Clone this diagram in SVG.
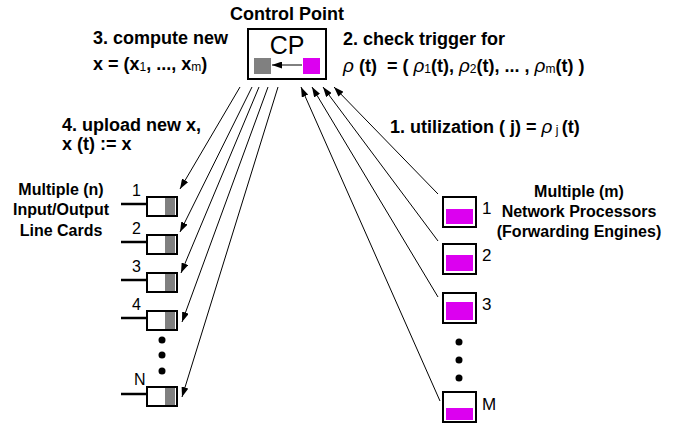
<svg xmlns="http://www.w3.org/2000/svg" width="673" height="426" viewBox="0 0 673 426">
<defs>
<style>
.b18{font-family:"Liberation Sans",Arial,sans-serif;font-weight:bold;font-size:18px;fill:#000;white-space:pre}
.b16{font-family:"Liberation Sans",Arial,sans-serif;font-weight:bold;font-size:16px;fill:#000;text-anchor:middle}
.num{font-family:"Liberation Sans",Arial,sans-serif;font-size:16px;fill:#000}
.numr{font-family:"Liberation Sans",Arial,sans-serif;font-size:17px;fill:#000}
.rho{font-family:"Liberation Sans",Arial,sans-serif;font-style:italic;font-weight:normal;font-size:19px}
.sub{font-weight:normal;font-size:12px}
.box{fill:#fff;stroke:#000;stroke-width:2}
.gray{fill:#808080}
.mag{fill:#dc00f0}
.conn{stroke:#000;stroke-width:1;fill:none;marker-end:url(#ah)}
.wire{stroke:#000;stroke-width:2.5}
</style>
<marker id="ah" markerWidth="10" markerHeight="7" refX="10" refY="3.5" orient="auto" markerUnits="userSpaceOnUse">
<path d="M0,0 L10,3.5 L0,7 z" fill="#000"/>
</marker>
</defs>
<rect width="673" height="426" fill="#fff"/>

<g id="control-point">
<text x="287" y="20" class="b18" text-anchor="middle">Control Point</text>
<rect x="248" y="29" width="78" height="50" class="box"/>
<text x="287" y="54" font-family="Liberation Sans, Arial, sans-serif" font-size="25" text-anchor="middle">CP</text>
<rect x="254" y="58" width="17" height="16" class="gray"/>
<rect x="303" y="58" width="17" height="16" class="mag"/>
<line x1="302" y1="65" x2="272" y2="65" class="conn"/>
</g>

<g id="labels">
<text x="93" y="44" class="b18">3. compute new</text>
<text x="93" y="70" class="b18">x = (x<tspan class="sub" dy="1">1</tspan><tspan dy="-1">, ..., x</tspan><tspan class="sub" dy="1">m</tspan><tspan dy="-1">)</tspan></text>
<text x="343" y="45" class="b18">2. check trigger for</text>
<text x="343" y="72" class="b18"><tspan class="rho">ρ</tspan> (t)  = ( <tspan class="rho">ρ</tspan><tspan class="sub" dy="1">1</tspan><tspan dy="-1">(t), </tspan><tspan class="rho">ρ</tspan><tspan class="sub" dy="1">2</tspan><tspan dy="-1">(t), ... , </tspan><tspan class="rho">ρ</tspan><tspan class="sub" dy="1">m</tspan><tspan dy="-1">(t) )</tspan></text>
<text x="62" y="131" class="b18">4. upload new x,</text>
<text x="62" y="150" class="b18">x (t) := x</text>
<text x="390" y="133" class="b18">1. utilization ( j) = <tspan class="rho">ρ</tspan><tspan class="sub" dy="1"> j </tspan><tspan dy="-1">(t)</tspan></text>
<text x="61" y="195" class="b16">Multiple (n)</text>
<text x="61" y="215" class="b16">Input/Output</text>
<text x="61" y="236" class="b16">Line Cards</text>
<text x="579" y="197" class="b16">Multiple (m)</text>
<text x="579" y="217" class="b16">Network Processors</text>
<text x="579" y="237" class="b16">(Forwarding Engines)</text>
</g>

<g id="line-card-1">
<text x="132" y="196" class="num">1</text>
<line x1="121" y1="204" x2="147" y2="204" class="wire"/>
<rect x="147" y="197" width="30" height="19" class="box"/>
<rect x="165" y="198" width="10" height="17" class="gray"/>
</g>
<g id="line-card-2">
<text x="132" y="234" class="num">2</text>
<line x1="121" y1="242" x2="147" y2="242" class="wire"/>
<rect x="147" y="235" width="30" height="19" class="box"/>
<rect x="165" y="236" width="10" height="17" class="gray"/>
</g>
<g id="line-card-3">
<text x="132" y="272" class="num">3</text>
<line x1="121" y1="280" x2="147" y2="280" class="wire"/>
<rect x="147" y="273" width="30" height="19" class="box"/>
<rect x="165" y="274" width="10" height="17" class="gray"/>
</g>
<g id="line-card-4">
<text x="132" y="310" class="num">4</text>
<line x1="121" y1="318" x2="147" y2="318" class="wire"/>
<rect x="147" y="311" width="30" height="19" class="box"/>
<rect x="165" y="312" width="10" height="17" class="gray"/>
</g>
<g id="line-card-dots">
<circle cx="162" cy="340" r="3.5"/>
<circle cx="162" cy="355" r="3.5"/>
<circle cx="162" cy="371" r="3.5"/>
</g>
<g id="line-card-N">
<text x="134" y="385" class="num">N</text>
<line x1="121" y1="394" x2="147" y2="394" class="wire"/>
<rect x="147" y="387" width="30" height="19" class="box"/>
<rect x="165" y="388" width="10" height="17" class="gray"/>
</g>

<g id="np-1">
<rect x="443" y="197" width="33" height="30" class="box"/>
<rect x="446" y="209" width="27" height="15" class="mag"/>
<text x="482" y="214" class="numr">1</text>
</g>
<g id="np-2">
<rect x="443" y="244" width="33" height="30" class="box"/>
<rect x="446" y="255" width="27" height="16" class="mag"/>
<text x="482" y="261" class="numr">2</text>
</g>
<g id="np-3">
<rect x="443" y="293" width="33" height="30" class="box"/>
<rect x="446" y="302" width="27" height="18" class="mag"/>
<text x="482" y="310" class="numr">3</text>
</g>
<g id="np-dots">
<circle cx="459" cy="342" r="3.5"/>
<circle cx="459" cy="360" r="3.5"/>
<circle cx="459" cy="378" r="3.5"/>
</g>
<g id="np-M">
<rect x="443" y="392" width="33" height="30" class="box"/>
<rect x="446" y="408" width="27" height="12" class="mag"/>
<text x="482" y="410" class="numr">M</text>
</g>

<g id="connectors">
<line x1="240" y1="87" x2="180" y2="189" class="conn"/>
<line x1="252" y1="87" x2="180" y2="232" class="conn"/>
<line x1="259" y1="87" x2="181" y2="273" class="conn"/>
<line x1="268" y1="87" x2="182" y2="322" class="conn"/>
<line x1="278" y1="87" x2="182" y2="397" class="conn"/>
<line x1="438" y1="194" x2="334" y2="87" class="conn"/>
<line x1="438" y1="241" x2="323" y2="87" class="conn"/>
<line x1="438" y1="297" x2="312" y2="87" class="conn"/>
<line x1="440" y1="401" x2="301" y2="87" class="conn"/>
</g>
</svg>
